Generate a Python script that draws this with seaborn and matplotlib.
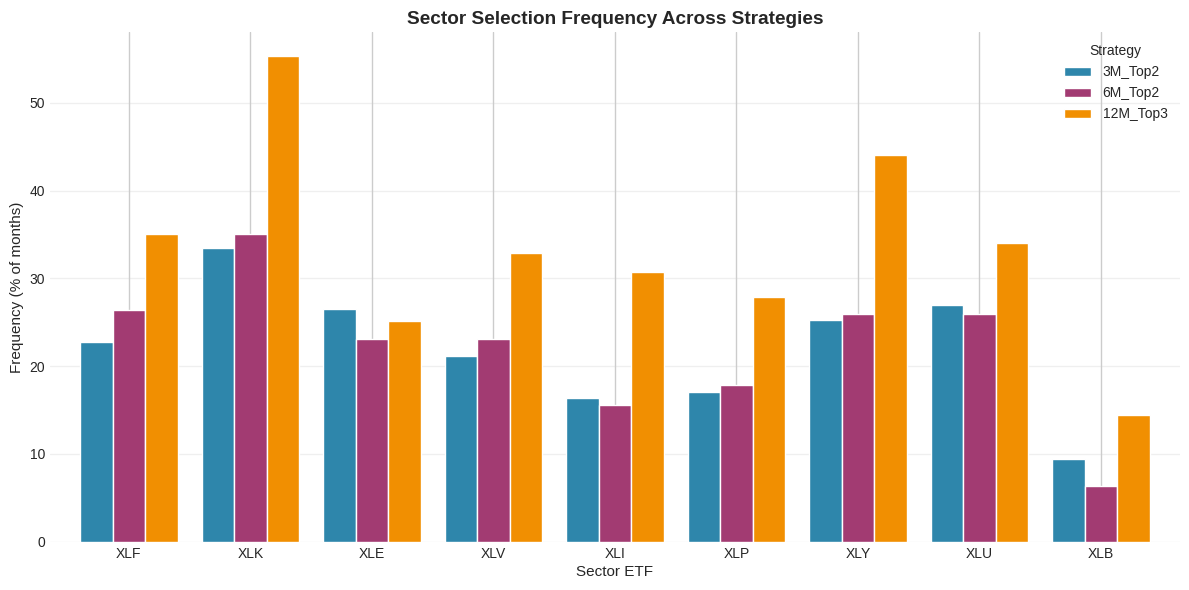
import matplotlib
matplotlib.use("Agg")
import matplotlib.pyplot as plt
import seaborn as sns
import pandas as pd

sectors = ["XLF", "XLK", "XLE", "XLV", "XLI", "XLP", "XLY", "XLU", "XLB"]
strategies = ["3M_Top2", "6M_Top2", "12M_Top3"]
freq_3m = [22.8, 33.4, 26.5, 21.2, 16.4, 17.0, 25.3, 27.0, 9.4]
freq_6m = [26.4, 35.1, 23.1, 23.1, 15.6, 17.8, 25.9, 25.9, 6.3]
freq_12m = [35.1, 55.3, 25.1, 32.9, 30.7, 27.85, 44.1, 34.0, 14.4]
colors = ["#2E86AB", "#A23B72", "#F18F01"]

rows = []
for strat, vals in zip(strategies, [freq_3m, freq_6m, freq_12m]):
    for s, v in zip(sectors, vals):
        rows.append({"Sector": s, "Strategy": strat, "Frequency": v})
df = pd.DataFrame(rows)

sns.set_theme(style="whitegrid")
plt.rcParams["font.family"] = ["Liberation Sans", "DejaVu Sans"]

fig, ax = plt.subplots(figsize=(11.89, 5.9), dpi=100)
sns.barplot(data=df, x="Sector", y="Frequency", hue="Strategy",
            order=sectors, hue_order=strategies, palette=colors,
            width=0.8, edgecolor="white", linewidth=1.0, saturation=1,
            ax=ax)
ax.set_xlim(-0.65, 8.65)
ax.grid(axis="y", alpha=0.3)
ax.grid(axis="x", color="#cccccc", linewidth=1.0)
ax.set_axisbelow(True)
sns.despine(ax=ax, left=True, bottom=True)

ax.set_title("Sector Selection Frequency Across Strategies",
             fontsize=13.7, fontweight="bold", pad=6)
ax.set_xlabel("Sector ETF", fontsize=11, labelpad=3)
ax.set_ylabel("Frequency (% of months)", fontsize=11, labelpad=4)
ax.tick_params(axis="both", labelsize=10, pad=3.5, length=0)
leg = ax.legend(title="Strategy", loc="upper right", frameon=False,
                fontsize=10, title_fontsize=10)

fig.subplots_adjust(left=0.042, right=0.9924, top=0.9458, bottom=0.0819)
fig.savefig("out.png", dpi=100)
